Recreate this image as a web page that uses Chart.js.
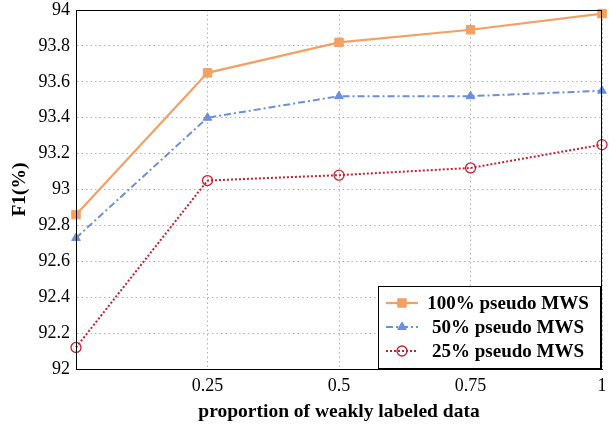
<!DOCTYPE html>
<html><head><meta charset="utf-8">
<script src="https://cdn.jsdelivr.net/npm/chart.js@4"></script>
<style>html,body{margin:0;padding:0;background:#fff}#w{width:609px;height:432px}</style>
</head><body><div id="w"><canvas id="c" width="609" height="432"></canvas></div>
<script>
const xValues = [0, 0.25, 0.5, 0.75, 1];
const seriesLabels = ['100% pseudo MWS', '50% pseudo MWS', '25% pseudo MWS'];
const f1Full = [92.86, 93.65, 93.82, 93.89, 93.98];
const f1Half = [92.73, 93.40, 93.52, 93.52, 93.55];
const f1Quarter = [92.12, 93.05, 93.08, 93.12, 93.25];
const xTickLabels = ['0.25', '0.5', '0.75', '1'];
const yTickLabels = ['92','92.2','92.4','92.6','92.8','93','93.2','93.4','93.6','93.8','94'];

const SERIF = '"Liberation Serif", "Times New Roman", serif';
const toPts = arr => arr.map((v, i) => ({x: xValues[i], y: v}));

const frameAndLegend = {
  id: 'frameAndLegend',
  afterDraw(chart) {
    const ctx = chart.ctx, a = chart.chartArea;
    ctx.save();
    ctx.strokeStyle = '#000';
    ctx.lineWidth = 1;
    ctx.setLineDash([]);
    ctx.strokeRect(a.left + 0.5, a.top + 0.5, a.right - a.left - 1, a.bottom - a.top);
    // legend
    const bw = 222, bh = 82;
    const bx = a.right - 2 - bw, by = a.bottom - 1 - bh;
    ctx.fillStyle = '#fff';
    ctx.fillRect(bx, by, bw, bh);
    ctx.strokeRect(bx + 0.5, by + 0.5, bw, bh);
    chart.data.datasets.forEach((ds, i) => {
      const cy = by + 17 + i * 24;
      const x0 = bx + 8, x1 = bx + 40;
      ctx.strokeStyle = ds.borderColor;
      ctx.lineWidth = ds.borderWidth;
      ctx.setLineDash(ds.borderDash || []);
      ctx.beginPath(); ctx.moveTo(x0, cy); ctx.lineTo(x1, cy); ctx.stroke();
      ctx.setLineDash([]);
      ctx.fillStyle = ds.pointBackgroundColor;
      ctx.strokeStyle = ds.pointBorderColor;
      ctx.lineWidth = ds.pointBorderWidth;
      Chart.helpers.drawPoint(ctx, {pointStyle: ds.pointStyle, radius: ds.pointRadius, rotation: 0, borderWidth: ds.pointBorderWidth}, (x0 + x1) / 2, cy);
      ctx.fillStyle = '#000';
      ctx.font = 'bold 19px ' + SERIF;
      ctx.textAlign = 'center';
      ctx.textBaseline = 'middle';
      ctx.fillText(ds.label, bx + 130, cy + 1);
    });
    ctx.restore();
  }
};

new Chart(document.getElementById('c'), {
  type: 'line',
  data: {
    datasets: [
      {label: seriesLabels[0], data: toPts(f1Full), borderColor: '#f4a064', backgroundColor: '#f4a064',
       borderWidth: 2.2, pointStyle: 'rect', pointRadius: 6, pointBackgroundColor: '#f4a064',
       pointBorderColor: '#f4a064', pointBorderWidth: 1, clip: false},
      {label: seriesLabels[1], data: toPts(f1Half), borderColor: '#6a8fdc', backgroundColor: '#6a8fdc',
       borderWidth: 2, borderDash: [7, 3, 2, 3], pointStyle: 'triangle', pointRadius: 5, pointBackgroundColor: '#6a8fdc',
       pointBorderColor: '#6a8fdc', pointBorderWidth: 1, clip: false},
      {label: seriesLabels[2], data: toPts(f1Quarter), borderColor: '#c8202e', backgroundColor: '#c8202e',
       borderWidth: 2, borderDash: [2, 2], pointStyle: 'circle', pointRadius: 5, pointBackgroundColor: 'rgba(255,255,255,0)',
       pointBorderColor: '#c8202e', pointBorderWidth: 1.3, clip: false}
    ]
  },
  options: {
    responsive: false,
    animation: false,
    devicePixelRatio: 1,
    layout: {padding: {left: 0, right: 5, top: 10, bottom: 0}},
    plugins: {legend: {display: false}, tooltip: {enabled: false}},
    elements: {line: {tension: 0}},
    scales: {
      x: {
        type: 'linear', min: 0, max: 1,
        afterBuildTicks: s => { s.ticks = [0].concat(xTickLabels.map(Number)).map(v => ({value: v})); },
        ticks: {
          callback: v => { const i = xTickLabels.map(Number).indexOf(v); return i >= 0 ? xTickLabels[i] : ''; },
          color: '#000', font: {family: SERIF, size: 18}, padding: 6, maxRotation: 0
        },
        grid: {color: '#b0b0b0', lineWidth: 1, drawTicks: false},
        border: {display: true, color: '#000', dash: [1.5, 3]},
        title: {display: true, text: 'proportion of weakly labeled data', color: '#000',
                font: {family: SERIF, size: 19.5, weight: 'bold'}, padding: {top: 8, bottom: 8}},
        afterFit: s => { s.height = 63; s.paddingLeft = 0; s.paddingRight = 0; s.paddingTop = 0; s.paddingBottom = 0; }
      },
      y: {
        type: 'linear', min: 92, max: 94,
        afterBuildTicks: s => { s.ticks = yTickLabels.map(v => ({value: Number(v)})); },
        ticks: {
          callback: v => { const i = yTickLabels.map(Number).findIndex(t => Math.abs(t - v) < 1e-6); return i >= 0 ? yTickLabels[i] : ''; },
          color: '#000', font: {family: SERIF, size: 18}, padding: 6
        },
        grid: {color: '#b0b0b0', lineWidth: 1, drawTicks: false},
        border: {display: true, color: '#000', dash: [1.5, 3]},
        title: {display: true, text: 'F1(%)', color: '#000',
                font: {family: SERIF, size: 19.5, weight: 'bold'}, padding: {top: 8, bottom: 6}},
        afterFit: s => { s.width = 76; s.paddingLeft = 0; s.paddingRight = 0; s.paddingTop = 0; s.paddingBottom = 0; }
      }
    }
  },
  plugins: [frameAndLegend]
});
</script>
</body></html>
